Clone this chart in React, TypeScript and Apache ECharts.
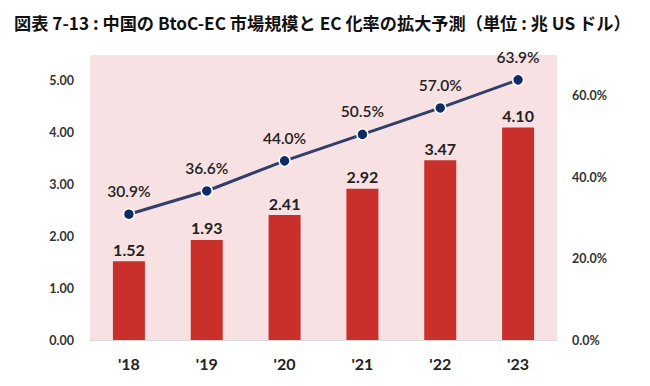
import React, { useEffect, useRef } from "react";
import * as echarts from "echarts";

const categories = ["'18", "'19", "'20", "'21", "'22", "'23"];
const marketSize = [1.52, 1.93, 2.41, 2.92, 3.47, 4.1];
const ecRate = [30.9, 36.6, 44.0, 50.5, 57.0, 63.9];
const titleText = "図表 7-13 : 中国の BtoC-EC 市場規模と EC 化率の拡大予測（単位 : 兆 US ドル）";

export default function App() {
  const ref = useRef<HTMLDivElement>(null);
  useEffect(() => {
    const chart = echarts.init(ref.current!, null, { renderer: "svg" });
    const font = "Lato, 'Open Sans', sans-serif";
    chart.setOption({
      animation: false,
      backgroundColor: "#ffffff",
      title: {
        text: titleText,
        left: 9,
        top: 9,
        textStyle: { fontFamily: "'Noto Sans CJK JP', sans-serif", fontSize: 17.2, fontWeight: "bold", color: "#111" },
      },
      grid: {
        left: 90,
        right: 93,
        top: 55,
        bottom: 46,
        show: true,
        backgroundColor: "#F8E1E2",
        borderWidth: 0,
      },
      xAxis: {
        type: "category",
        data: categories,
        axisLine: { show: true, lineStyle: { color: "#d9d9d9" } },
        axisTick: { show: false },
        axisLabel: { margin: 15, fontFamily: font, fontSize: 16, fontWeight: "bold", color: "#222" },
      },
      yAxis: [
        {
          type: "value",
          min: 0,
          max: 5.5,
          interval: 1,
          splitLine: { show: false },
          axisLine: { show: false },
          axisTick: { show: false },
          axisLabel: {
            margin: 16,
            fontFamily: font,
            fontSize: 12.5,
            fontWeight: "bold",
            color: "#333",
            formatter: (v: number) => (v > 5 ? "" : v.toFixed(2)),
          },
        },
        {
          type: "value",
          min: 0,
          max: 70,
          interval: 20,
          splitLine: { show: false },
          axisLine: { show: false },
          axisTick: { show: false },
          axisLabel: {
            margin: 15,
            fontFamily: font,
            fontSize: 12.5,
            fontWeight: "bold",
            color: "#333",
            formatter: (v: number) => (v > 60 ? "" : v.toFixed(1) + "%"),
          },
        },
      ],
      series: [
        {
          type: "bar",
          data: marketSize,
          barWidth: 32,
          itemStyle: { color: "#C9302C" },
          label: {
            show: true,
            position: "top",
            distance: 4,
            fontFamily: font,
            fontSize: 16,
            fontWeight: "bold",
            color: "#222",
            formatter: (p: any) => p.value.toFixed(2),
          },
        },
        {
          type: "line",
          yAxisIndex: 1,
          data: ecRate,
          symbol: "circle",
          symbolSize: 11,
          lineStyle: { color: "#2F3E6B", width: 3 },
          itemStyle: { color: "#0F2A66", borderColor: "#ffffff", borderWidth: 1.5 },
          label: {
            show: true,
            position: "top",
            distance: 9,
            fontFamily: font,
            fontSize: 15.5,
            fontWeight: 600,
            color: "#222",
            formatter: (p: any) => p.value.toFixed(1) + "%",
          },
        },
      ],
    });
    return () => chart.dispose();
  }, []);
  return (
    <div
      ref={ref}
      style={{ position: "fixed", left: 0, top: 0, width: 650, height: 386 }}
    />
  );
}
